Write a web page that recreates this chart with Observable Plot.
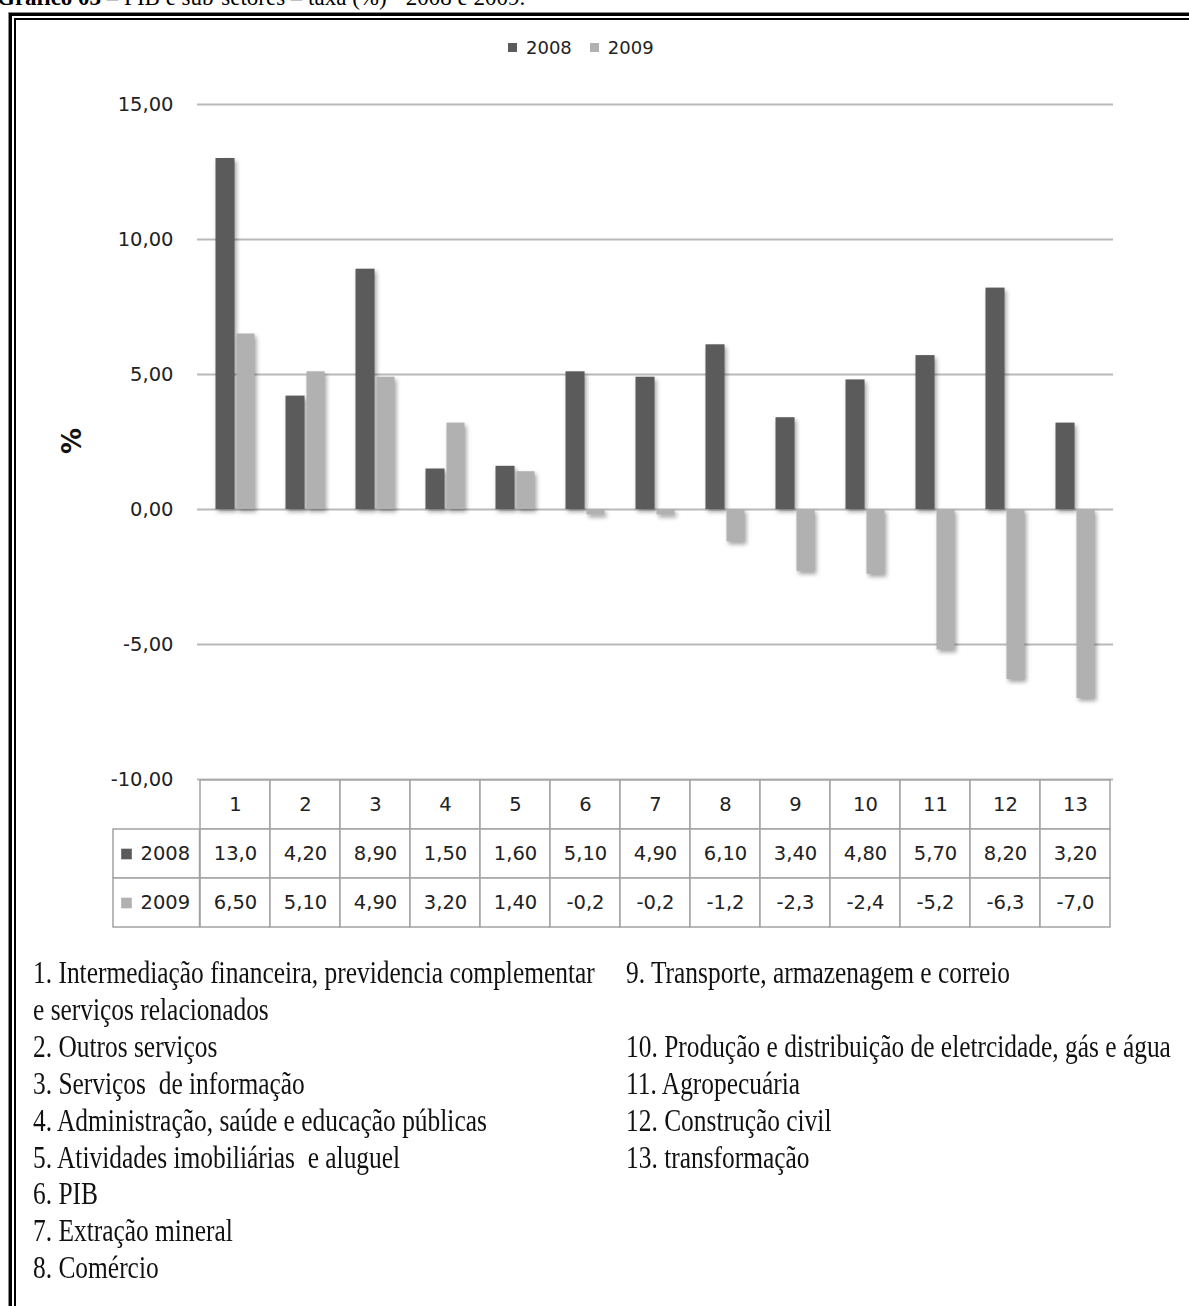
<!DOCTYPE html>
<html>
<head>
<meta charset="utf-8">
<script src="https://cdn.jsdelivr.net/npm/d3@7"></script>
<script src="https://cdn.jsdelivr.net/npm/@observablehq/plot@0.6"></script>
<style>
  html, body { margin: 0; padding: 0; background: #fff; }
  #page { position: relative; width: 1189px; height: 1306px; overflow: hidden; background: #fff; }
  .abs { position: absolute; }
  #title { left: -3px; top: -14px; font-family: "Liberation Serif"; font-size: 23px; line-height: 23px; white-space: nowrap; color: #000; }
  #frame1 { left: 9px; top: 13px; width: 1300px; height: 1400px; border: 3px solid #000; box-shadow: -1px -1px 0 #8a8a8a; }
  #frame2 { left: 14px; top: 18px; width: 1300px; height: 1400px; border: 2px solid #000; }
  .notes { font-family: "Liberation Serif"; font-size: 31px; line-height: 36.9px; white-space: pre; transform: scaleX(0.82); transform-origin: 0 0; color: #111; }
  #ylab { left: 72px; top: 441px; transform: translate(-50%, -50%) rotate(-90deg); font-family: "DejaVu Sans"; font-weight: bold; font-size: 26px; color: #111; }
</style>
</head>
<body>
<div id="page">
  <div id="title" class="abs"><b>Gráfico 03</b> – PIB e sub-setores – taxa (%) - 2008 e 2009.</div>
  <div id="frame1" class="abs"></div>
  <div id="frame2" class="abs"></div>
  <div id="legend" class="abs" style="left:508px; top:31px;"></div>
  <div id="ylab" class="abs">%</div>
  <div id="chart" class="abs" style="left:0; top:60px;"></div>
  <div id="table" class="abs" style="left:0; top:779px;"></div>
  <div id="notesL" class="abs notes" style="left:33px; top:955px;"></div>
  <div id="notesR" class="abs notes" style="left:626px; top:955px;"></div>
</div>
<script>
// ---- data ----
const categories = ["1","2","3","4","5","6","7","8","9","10","11","12","13"];
const values2008 = [13.0, 4.2, 8.9, 1.5, 1.6, 5.1, 4.9, 6.1, 3.4, 4.8, 5.7, 8.2, 3.2];
const values2009 = [6.5, 5.1, 4.9, 3.2, 1.4, -0.2, -0.2, -1.2, -2.3, -2.4, -5.2, -6.3, -7.0];
const seriesNames = ["2008", "2009"];
const seriesColors = ["#5b5b5b", "#b1b1b1"];
const yTicks = [-10, -5, 0, 5, 10, 15];
const notesLeft = [
  "1. Intermediação financeira, previdencia complementar",
  "e serviços relacionados",
  "2. Outros serviços",
  "3. Serviços  de informação",
  "4. Administração, saúde e educação públicas",
  "5. Atividades imobiliárias  e aluguel",
  "6. PIB",
  "7. Extração mineral",
  "8. Comércio"
];
const notesRight = [
  "9. Transporte, armazenagem e correio",
  "",
  "10. Produção e distribuição de eletrcidade, gás e água",
  "11. Agropecuária",
  "12. Construção civil",
  "13. transformação"
];

// ---- derived tables ----
const rows = categories.map((c, i) => ({cat: c, v2008: values2008[i], v2009: values2009[i]}));
const tableLabel = v => v.toFixed(2).replace(".", ",").slice(0, 4);
const tableCells = [];
categories.forEach((c, i) => {
  tableCells.push({cat: c, row: "cat", text: c});
  tableCells.push({cat: c, row: seriesNames[0], text: tableLabel(values2008[i])});
  tableCells.push({cat: c, row: seriesNames[1], text: tableLabel(values2009[i])});
});
const rowLabels = seriesNames.map((s, i) => ({row: s, color: seriesColors[i]}));

const W = 1189, ML = 197, MR = 76;
const bw = (W - ML - MR) / categories.length;
const font = "DejaVu Sans";

// ---- chart ----
const chart = Plot.plot({
  width: W,
  height: 734,
  marginTop: 44,
  marginBottom: 15,
  marginLeft: ML,
  marginRight: MR,
  style: {background: "transparent", fontFamily: font, fontSize: "19.5px", color: "#222"},
  x: {type: "band", domain: categories, padding: 0, axis: null},
  y: {domain: [-10, 15], axis: null},
  marks: [
    Plot.ruleY(yTicks, {stroke: "#b9b9b9", strokeWidth: 2}),
    Plot.axisY({ticks: yTicks, tickFormat: d => d.toFixed(2).replace(".", ","), tickSize: 0, tickPadding: 24, label: null, line: true, stroke: "#9c9c9c", strokeWidth: 1.5, fill: "#222", fontSize: 19.5}),
    Plot.barY(rows, {x: "cat", y: "v2008", fill: seriesColors[0], insetLeft: 15.5, insetRight: bw - 35}),
    Plot.barY(rows, {x: "cat", y: "v2009", fill: seriesColors[1], insetLeft: 36.5, insetRight: bw - 55})
  ]
});
chart.querySelectorAll('g[aria-label="bar"]').forEach(g => {
  g.style.filter = "drop-shadow(2px 3px 2px rgba(0,0,0,0.35))";
});
document.getElementById("chart").appendChild(chart);

// ---- data table ----
const table = Plot.plot({
  width: W,
  height: 152,
  marginTop: 0,
  marginBottom: 3,
  marginLeft: ML,
  marginRight: MR,
  style: {background: "transparent", fontFamily: font, fontSize: "19.5px", color: "#222"},
  x: {type: "band", domain: categories, padding: 0, axis: null},
  y: {type: "band", domain: ["cat", ...seriesNames], padding: 0, axis: null},
  marks: [
    Plot.cell(tableCells, {x: "cat", y: "row", fill: "white", stroke: "#a3a3a3", strokeWidth: 1.5}),
    Plot.cell(rowLabels, {x: () => categories[0], y: "row", fill: "white", stroke: "#a3a3a3", strokeWidth: 1.5, insetLeft: -87, insetRight: bw}),
    Plot.dot(rowLabels, {y: "row", frameAnchor: "left", dx: -71, symbol: "square", r: 6, fill: "color", stroke: null}),
    Plot.text(rowLabels, {y: "row", text: "row", frameAnchor: "left", dx: -57, textAnchor: "start", fill: "#222"}),
    Plot.text(tableCells, {x: "cat", y: "row", text: "text", fill: "#222"})
  ]
});
document.getElementById("table").appendChild(table);

// ---- legend ----
const legend = Plot.legend({
  color: {type: "ordinal", domain: seriesNames, range: seriesColors},
  legend: "swatches",
  swatchSize: 9,
  style: {fontFamily: font, fontSize: "18px", color: "#222", background: "transparent"}
});
document.getElementById("legend").appendChild(legend);

// ---- notes ----
document.getElementById("notesL").textContent = notesLeft.join("\n");
document.getElementById("notesR").textContent = notesRight.join("\n");
</script>
</body>
</html>
